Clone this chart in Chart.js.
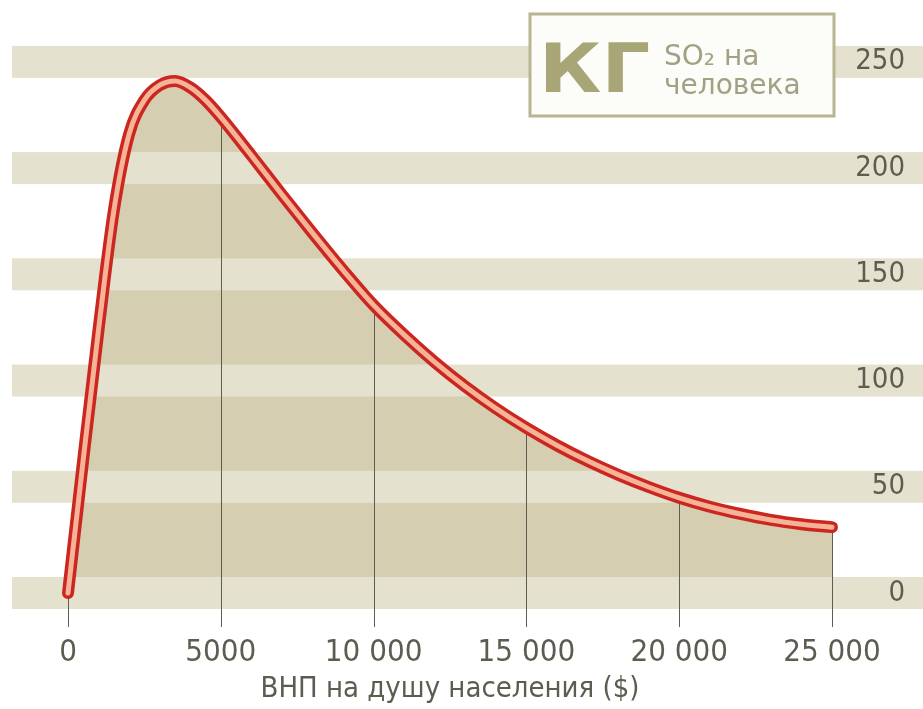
<!DOCTYPE html>
<html>
<head>
<meta charset="utf-8">
<script src="https://cdn.jsdelivr.net/npm/chart.js@4/dist/chart.umd.min.js"></script>
<style>
    html, body { margin: 0; padding: 0; background: #ffffff; }
    #wrap { width: 923px; height: 709px; position: relative; }
</style>
</head>
<body>
<div id="wrap"><canvas id="so2Chart"></canvas></div>
<script>
// ВНП на душу населения ($) -> кг SO2 на человека
const gnpPerCapita = [0, 500, 1000, 1500, 2000, 2500, 3000, 3500, 4000, 4500, 5000,
    6000, 7000, 8000, 9000, 10000, 11000, 12000, 13000, 14000, 15000,
    16000, 17000, 18000, 19000, 20000, 21000, 22000, 23000, 24000, 25000];
const so2PerPerson = [0, 63, 124, 180, 216, 232, 239, 241, 238, 232, 224,
    206, 187.5, 169.5, 152, 135.5, 121.5, 108.7, 97.2, 86.9, 77.7,
    69.5, 62.2, 55.7, 49.9, 44.8, 40.6, 37.2, 34.4, 32.4, 31];

const xTickValues = [0, 5000, 10000, 15000, 20000, 25000];
const xTickLabels = ['0', '5000', '10 000', '15 000', '20 000', '25 000'];
const yTickValues = [0, 50, 100, 150, 200, 250];

const axisFont = "'DejaVu Sans Condensed', 'DejaVu Sans', sans-serif";
const textGrey = '#5c5c50';

const points = gnpPerCapita.map((x, i) => ({ x: x, y: so2PerPerson[i] }));

// полосы, вертикальные линии и плашка "КГ"
const decorPlugin = {
    id: 'decor',
    afterDatasetDraw(chart, args) {
        if (args.index !== 2) return;
        const ctx = chart.ctx;
        const xs = chart.scales.x, ys = chart.scales.y;
        const area = chart.chartArea;

        ctx.save();
        ctx.fillStyle = '#e4e2cf';
        yTickValues.forEach(v => {
            const py = ys.getPixelForValue(v);
            ctx.fillRect(12, py - 16, chart.width - 12, 32);
        });

        ctx.strokeStyle = '#5e5e50';
        ctx.lineWidth = 1;
        xTickValues.forEach(v => {
            const idx = gnpPerCapita.indexOf(v);
            const px = Math.round(xs.getPixelForValue(v)) + 0.5;
            ctx.beginPath();
            ctx.moveTo(px, ys.getPixelForValue(so2PerPerson[idx]));
            ctx.lineTo(px, area.bottom);
            ctx.stroke();
        });
        ctx.restore();
    },
    afterDraw(chart) {
        const ctx = chart.ctx;
        ctx.save();
        ctx.fillStyle = '#fcfcf8';
        ctx.fillRect(530, 14, 304, 102);
        ctx.strokeStyle = '#b8b691';
        ctx.lineWidth = 3;
        ctx.strokeRect(530, 14, 304, 102);

        ctx.fillStyle = '#a8a676';
        ctx.font = "bold 67px 'DejaVu Sans', sans-serif";
        ctx.textBaseline = 'alphabetic';
        ctx.textAlign = 'left';
        ctx.save();
        ctx.translate(539, 92);
        ctx.scale(1.14, 1);
        ctx.fillText('КГ', 0, 0);
        ctx.restore();

        ctx.fillStyle = '#a3a184';
        ctx.font = "28px 'DejaVu Sans', sans-serif";
        ctx.fillText('SO₂ на', 664, 65);
        ctx.fillText('человека', 664, 94);
        ctx.restore();
    }
};

new Chart(document.getElementById('so2Chart').getContext('2d'), {
    type: 'line',
    data: {
        datasets: [
            {
                // светлая середина линии
                data: points,
                borderColor: '#f5b398',
                borderWidth: 5,
                borderCapStyle: 'round',
                pointRadius: 0,
                fill: false,
                cubicInterpolationMode: 'monotone',
                clip: false,
                order: 0
            },
            {
                data: points,
                borderColor: '#cc2620',
                borderWidth: 12,
                borderCapStyle: 'round',
                pointRadius: 0,
                fill: false,
                cubicInterpolationMode: 'monotone',
                clip: false,
                order: 1
            },
            {
                // заливка под кривой
                data: points,
                borderWidth: 0,
                borderColor: 'rgba(0,0,0,0)',
                backgroundColor: '#d5ceb1',
                pointRadius: 0,
                fill: 'origin',
                cubicInterpolationMode: 'monotone',
                order: 2
            }
        ]
    },
    options: {
        responsive: true,
        maintainAspectRatio: false,
        animation: false,
        layout: { padding: { left: 68, top: 30, right: 18, bottom: 0 } },
        plugins: {
            legend: { display: false },
            tooltip: { enabled: false }
        },
        scales: {
            x: {
                type: 'linear',
                min: 0,
                max: 25000,
                grid: { display: false, drawTicks: false },
                border: { display: false },
                afterBuildTicks: s => { s.ticks = xTickValues.map(v => ({ value: v })); },
                afterFit: s => { s.height = 82; },
                ticks: {
                    padding: 7,
                    color: textGrey,
                    font: { family: axisFont, size: 31 },
                    maxRotation: 0,
                    callback: v => xTickLabels[xTickValues.indexOf(v)]
                },
                title: {
                    display: true,
                    text: 'ВНП на душу населения ($)',
                    color: textGrey,
                    font: { family: axisFont, size: 29 },
                    padding: { top: 0, bottom: 2 }
                }
            },
            y: {
                position: 'right',
                min: -16,
                max: 265,
                grid: { display: false, drawTicks: false },
                border: { display: false },
                afterBuildTicks: s => { s.ticks = yTickValues.map(v => ({ value: v })); },
                afterFit: s => { s.width = 73; s.paddingTop = 0; s.paddingBottom = 0; },
                ticks: {
                    z: 1,
                    crossAlign: 'far',
                    padding: 5,
                    color: textGrey,
                    font: { family: axisFont, size: 29 }
                }
            }
        }
    },
    plugins: [decorPlugin]
});
</script>
</body>
</html>
